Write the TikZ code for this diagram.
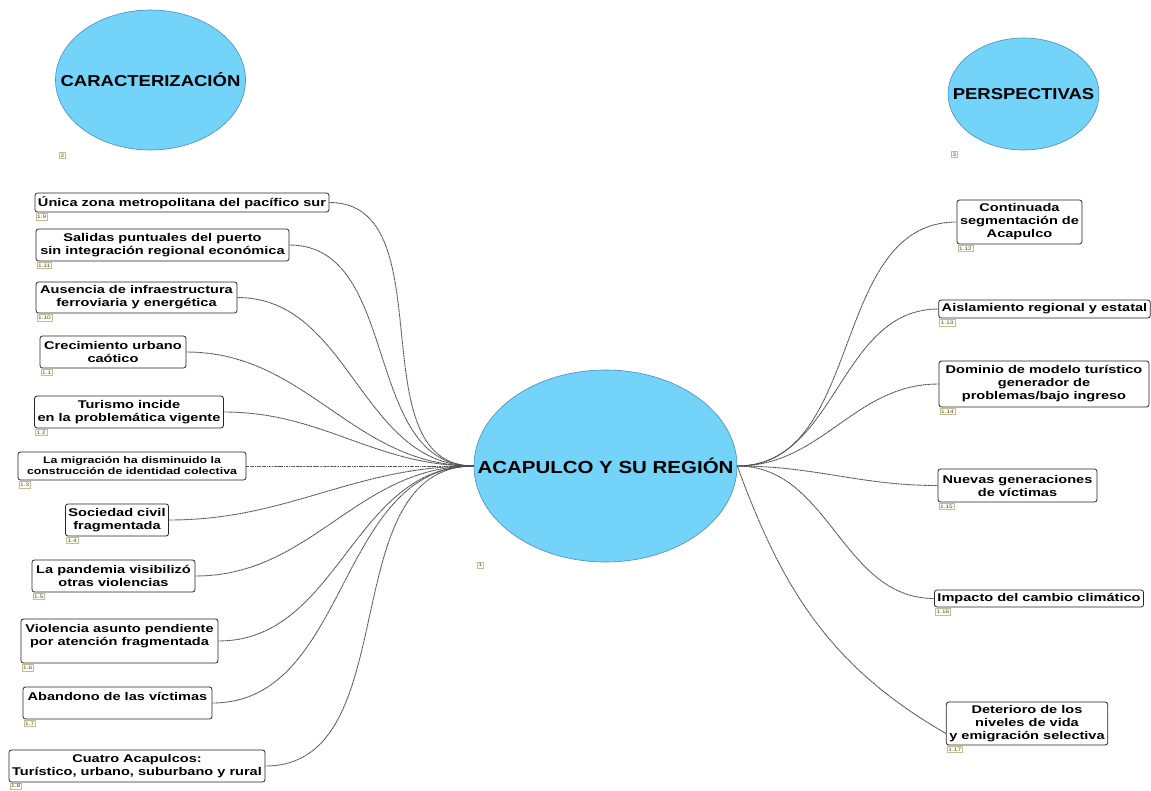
\documentclass[tikz,border=0pt]{standalone}
\usepackage{fontspec}
\setmainfont{Liberation Sans}[FakeStretch=1.3]
\newfontfamily\ovalfont{Liberation Sans}[FakeStretch=1.17]
\usepackage{tikz}
\usetikzlibrary{positioning,shapes.geometric}
\definecolor{ovalfill}{HTML}{73D3F8}
\definecolor{ovalline}{HTML}{4B8BBE}
\definecolor{tagfill}{HTML}{FFFFF2}
\definecolor{tagline}{HTML}{C8BC8C}

\begin{document}
\begin{tikzpicture}[x=1pt,y=1pt,line width=0.8pt]
\tikzstyle{box}=[draw=black!85, fill=white, rounded corners=2.5pt, align=center, inner xsep=3pt, inner ysep=2.5pt, font=\bfseries\fontsize{11.2}{13}\selectfont]
\tikzstyle{oval}=[ellipse, draw=ovalline, fill=ovalfill, line width=0.6pt, inner sep=0pt, font=\ovalfont\bfseries]
\tikzstyle{tag}=[draw=tagline, fill=tagfill, line width=0.5pt, inner sep=1.3pt, text=black!70, font=\fontsize{5}{5.5}\selectfont]
\tikzstyle{link}=[dash pattern=on 1.2pt off 0.5pt, draw=black!70, line width=0.9pt]
\useasboundingbox (0,0) rectangle (1151,-790);
% main topics
\node[oval, minimum width=263pt, minimum height=192pt, font=\ovalfont\bfseries\fontsize{17.5}{20}\selectfont] (acap) at (605.5,-466) {\makebox[0pt]{ACAPULCO Y SU REGIÓN}};
\node[oval, minimum width=190pt, minimum height=140pt, font=\ovalfont\bfseries\fontsize{15.8}{18}\selectfont] (carac) at (150.5,-80) {\makebox[0pt]{CARACTERIZACIÓN}};
\node[oval, minimum width=151pt, minimum height=112pt, font=\ovalfont\bfseries\fontsize{15.8}{18}\selectfont] (persp) at (1023.5,-94) {\makebox[0pt]{PERSPECTIVAS}};
\node[tag, anchor=north west] (t1) at (477,-562) {1};
\node[tag, anchor=north west] (t2) at (59,-152) {2};
\node[tag, anchor=north west] (t3) at (951,-151) {3};
% left branch
\node[box, minimum width=292pt, minimum height=19pt] (b19) at (182,-202.5) {Única zona metropolitana del pacífico sur};
\node[box, minimum width=253pt, minimum height=32pt] (b111) at (162.5,-245) {Salidas puntuales del puerto\\sin integración regional económica};
\node[box, minimum width=201pt, minimum height=31pt] (b110) at (136.5,-297.5) {Ausencia de infraestructura\\ferroviaria y energética};
\node[box, minimum width=146pt, minimum height=32pt] (b11) at (113,-352) {Crecimiento urbano\\caótico};
\node[box, minimum width=188pt, minimum height=32pt] (b12) at (129,-412) {Turismo incide\\en la problemática vigente};
\node[box, minimum width=228pt, minimum height=28pt, font=\bfseries\fontsize{9.5}{11}\selectfont] (b13) at (132,-466) {La migración ha disminuido la\\construcción de identidad colectiva};
\node[box, minimum width=102pt, minimum height=32pt] (b14) at (117,-520) {Sociedad civil\\fragmentada};
\node[box, minimum width=163pt, minimum height=32pt] (b15) at (113.5,-576) {La pandemia visibilizó\\otras violencias};
\node[box, minimum width=197pt, text height=24pt, text depth=15pt] (b16) at (119.5,-641) {Violencia asunto pendiente\\por atención fragmentada};
\node[box, minimum width=189pt, text height=11pt, text depth=16pt] (b17) at (117.5,-703) {Abandono de las víctimas};
\node[box, minimum width=256pt, minimum height=32pt] (b18) at (137,-766) {Cuatro Acapulcos:\\Turístico, urbano, suburbano y rural};
% right branch
\node[box, minimum width=125pt, minimum height=44pt] (b112) at (1019.5,-222) {Continuada\\segmentación de\\Acapulco};
\node[box, minimum width=211pt, minimum height=18pt] (b113) at (1044.5,-309) {Aislamiento regional y estatal};
\node[box, minimum width=210pt, minimum height=46pt] (b114) at (1044,-384) {Dominio de modelo turístico\\generador de\\problemas/bajo ingreso};
\node[box, minimum width=159pt, minimum height=33pt] (b115) at (1017.5,-485.5) {Nuevas generaciones\\de víctimas};
\node[box, minimum width=208pt, minimum height=17pt] (b116) at (1039,-598.5) {Impacto del cambio climático};
\node[box, minimum width=160pt, minimum height=43pt] (b117) at (1027,-723.5) {Deterioro de los\\niveles de vida\\y emigración selectiva};
% numbers
\node[tag, below right=1pt and 1pt of b19.south west] (t19) {1.9};
\node[tag, below right=1pt and 1pt of b111.south west] (t111) {1.11};
\node[tag, below right=1pt and 1pt of b110.south west] (t110) {1.10};
\node[tag, below right=1pt and 1pt of b11.south west] (t11) {1.1};
\node[tag, below right=1pt and 1pt of b12.south west] (t12) {1.2};
\node[tag, below right=1pt and 1pt of b13.south west] (t13) {1.3};
\node[tag, below right=1pt and 1pt of b14.south west] (t14) {1.4};
\node[tag, below right=1pt and 1pt of b15.south west] (t15) {1.5};
\node[tag, below right=1pt and 1pt of b16.south west] (t16) {1.6};
\node[tag, below right=1pt and 1pt of b17.south west] (t17) {1.7};
\node[tag, below right=0.5pt and 1pt of b18.south west] (t18) {1.8};
\node[tag, below right=1pt and 1pt of b112.south west] (t112) {1.12};
\node[tag, below right=1pt and 1pt of b113.south west] (t113) {1.13};
\node[tag, below right=1pt and 1pt of b114.south west] (t114) {1.14};
\node[tag, below right=1pt and 1pt of b115.south west] (t115) {1.15};
\node[tag, below right=1pt and 1pt of b116.south west] (t116) {1.16};
\node[tag, below right=1pt and 1pt of b117.south west] (t117) {1.17};
% connectors
\draw[link] (b19.east) to[out=0,in=180] (acap.west);
\draw[link] (b111.east) to[out=0,in=180] (acap.west);
\draw[link] (b110.east) to[out=0,in=180] (acap.west);
\draw[link] (b11.east) to[out=0,in=180] (acap.west);
\draw[link] (b12.east) to[out=0,in=180] (acap.west);
\draw[link] (b13.east) to[out=0,in=180] (acap.west);
\draw[link] (b14.east) to[out=0,in=180] (acap.west);
\draw[link] (b15.east) to[out=0,in=180] (acap.west);
\draw[link] (b16.east) to[out=0,in=180] (acap.west);
\draw[link] (b17.east) to[out=0,in=180] (acap.west);
\draw[link] (b18.east) to[out=0,in=180] (acap.west);
\draw[link] (acap.east) to[out=0,in=180] (b112.west);
\draw[link] (acap.east) to[out=0,in=180] (b113.west);
\draw[link] (acap.east) to[out=0,in=180] (b114.west);
\draw[link] (acap.east) to[out=0,in=180] (b115.west);
\draw[link] (acap.east) to[out=0,in=180] (b116.west);
\draw[link] (acap.east) to[out=-70,in=150] ([yshift=-10pt]b117.west);
\end{tikzpicture}
\end{document}
